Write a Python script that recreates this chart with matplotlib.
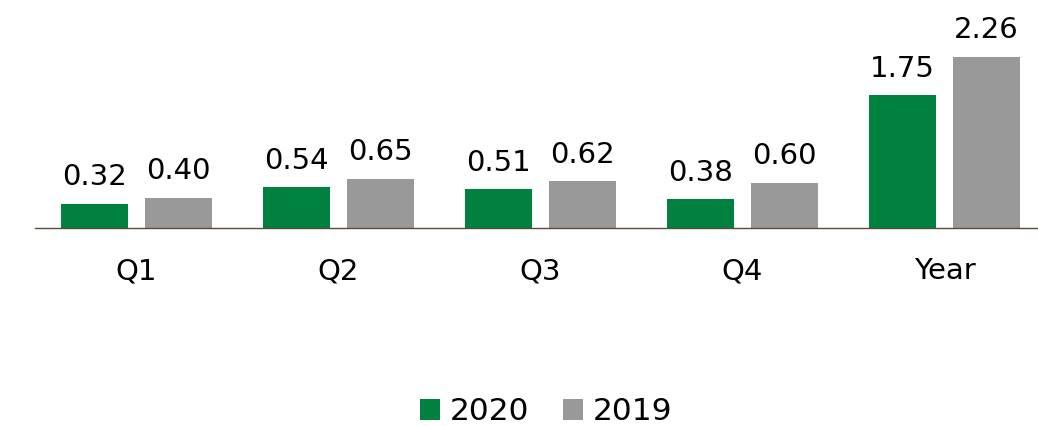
import matplotlib.pyplot as plt
import numpy as np

categories = ['Q1', 'Q2', 'Q3', 'Q4', 'Year']
vals_2020 = [0.32, 0.54, 0.51, 0.38, 1.75]
vals_2019 = [0.40, 0.65, 0.62, 0.60, 2.26]

green = '#00813f'
grey = '#999999'

plt.rcParams['font.family'] = 'DejaVu Sans'

fig = plt.figure(figsize=(10.38, 4.26), dpi=100)
ax = fig.add_axes([35 / 1038, (426 - 228) / 426, 1 - 35 / 1038, 228 / 426])

x = np.arange(len(categories))
w = 0.332
off = 0.208
b1 = ax.bar(x - off, vals_2020, w, color=green, label='2020')
b2 = ax.bar(x + off, vals_2019, w, color=grey, label='2019')

ax.bar_label(b1, labels=['%.2f' % v for v in vals_2020], padding=9, fontsize=21)
ax.bar_label(b2, labels=['%.2f' % v for v in vals_2019], padding=9, fontsize=21)

ax.set_xlim(-0.502, 4.463)
ax.set_ylim(0, 3.008)
ax.set_xticks(x)
ax.set_xticklabels(categories, fontsize=21)
ax.tick_params(axis='x', length=0, pad=21)
ax.set_yticks([])
for s in ['top', 'right', 'left']:
    ax.spines[s].set_visible(False)
ax.spines['bottom'].set_color('#5a4a3a')
ax.spines['bottom'].set_linewidth(1)

fig.legend(loc='center', bbox_to_anchor=(546 / 1038, 1 - 412 / 426), ncol=2,
           frameon=False, fontsize=22.5, handlelength=0.65, handleheight=0.65,
           handletextpad=0.3, columnspacing=1.1)

fig.savefig('out.png', dpi=100)
